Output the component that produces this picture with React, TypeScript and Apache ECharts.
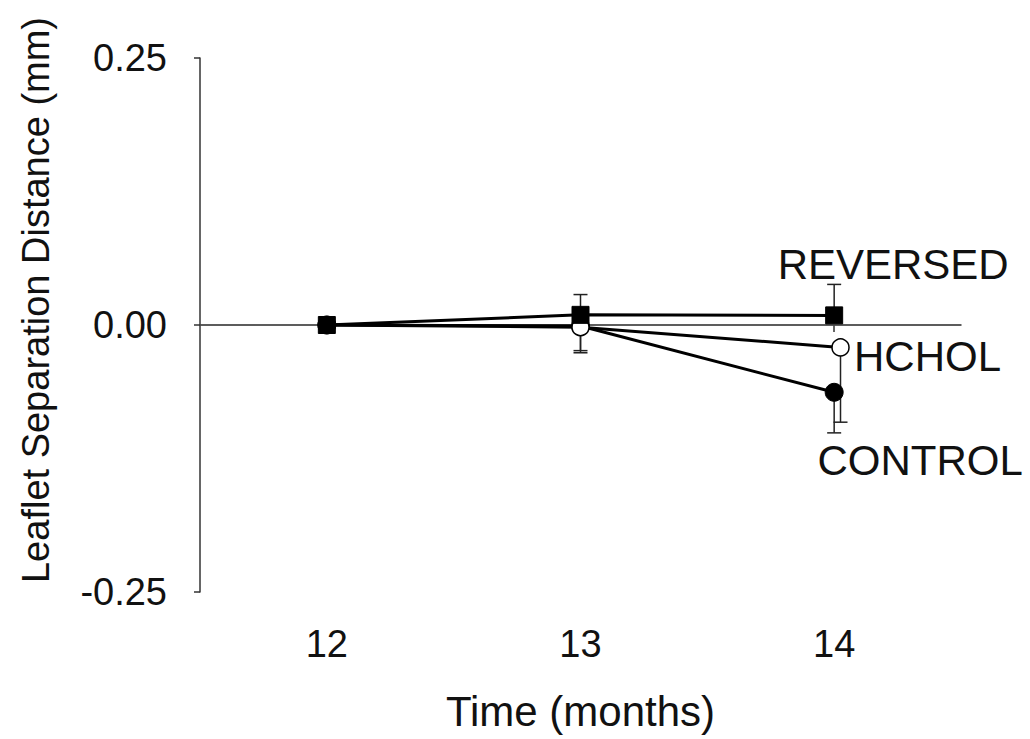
import React, { useEffect, useRef } from "react";
import * as echarts from "echarts";

const months = [12, 13, 14];
const hcholMonths = [12, 13, 14.025];
const reversedValues = [0, 0.0095, 0.009];
const reversedErrUp = [0, 0.019, 0.029];
const hcholValues = [0, -0.002, -0.021];
const hcholErrDown = [0, 0.022, 0.07];
const controlValues = [0, -0.001, -0.063];
const controlErrDown = [0, 0.025, 0.038];
const yTicks = [-0.25, 0, 0.25];
const seriesNames = ["REVERSED", "HCHOL", "CONTROL"];

const FONT = "Liberation Sans, Arial, sans-serif";

function lineData(xs: number[], ys: number[], labelOffset: number[], name: string) {
  return ys.map((y, i) => {
    const item: any = { value: [xs[i], y] };
    if (i === ys.length - 1) {
      item.label = {
        show: true,
        position: "inside",
        offset: labelOffset,
        formatter: name,
        fontSize: 42,
        fontFamily: FONT,
        color: "#111",
        align: "center",
        verticalAlign: "middle",
      };
    }
    return item;
  });
}

function errData(xs: number[], ys: number[], errs: number[], dir: number) {
  return ys
    .map((y, i) => [xs[i], y, y + dir * errs[i]])
    .filter((d) => d[1] !== d[2]);
}

function errSeries(data: number[][], z: number) {
  return {
    type: "custom",
    z,
    silent: true,
    data,
    encode: { x: 0, y: [1, 2] },
    renderItem: (params: any, api: any) => {
      const x = api.value(0);
      const p0 = api.coord([x, api.value(1)]);
      const p1 = api.coord([x, api.value(2)]);
      const half = 7;
      const style = { stroke: "#222", lineWidth: 1.5 };
      return {
        type: "group",
        children: [
          { type: "line", shape: { x1: p0[0], y1: p0[1], x2: p1[0], y2: p1[1] }, style },
          { type: "line", shape: { x1: p1[0] - half, y1: p1[1], x2: p1[0] + half, y2: p1[1] }, style },
        ],
      };
    },
  };
}

export default function App() {
  const ref = useRef<HTMLDivElement>(null);
  useEffect(() => {
    if (!ref.current) return;
    const chart = echarts.init(ref.current, undefined, { renderer: "svg" });
    chart.setOption({
      animation: false,
      backgroundColor: "#fff",
      grid: { left: 200, right: 69, top: 58, bottom: 147 },
      xAxis: {
        type: "value",
        min: 11.5,
        max: 14.5,
        name: "Time (months)",
        nameLocation: "middle",
        nameGap: 98,
        nameTextStyle: { fontSize: 42, fontFamily: FONT, color: "#111" },
        axisLine: { show: true, lineStyle: { color: "#333", width: 1.5 } },
        axisTick: { show: true, customValues: months, length: 7, lineStyle: { color: "#333", width: 1.5 } },
        axisLabel: { customValues: months, margin: 33, fontSize: 38, fontFamily: FONT, color: "#111" },
        splitLine: { show: false },
      },
      yAxis: {
        type: "value",
        min: -0.25,
        max: 0.25,
        interval: 0.25,
        name: "Leaflet Separation Distance (mm)",
        nameLocation: "middle",
        nameGap: 145,
        nameTextStyle: { fontSize: 38, fontFamily: FONT, color: "#111", padding: [0, 0, 0, 50] },
        axisLine: { show: true, lineStyle: { color: "#333", width: 1.5 } },
        axisTick: { show: true, customValues: yTicks, length: 6, lineStyle: { color: "#333", width: 1.5 } },
        axisLabel: {
          customValues: yTicks,
          margin: 33,
          fontSize: 38,
          fontFamily: FONT,
          color: "#111",
          formatter: (v: number) => v.toFixed(2),
        },
        splitLine: { show: false },
      },
      series: [
        {
          type: "line",
          name: "zero",
          data: [[11.5, 0], [14.5, 0]],
          symbol: "none",
          silent: true,
          z: 1,
          lineStyle: { color: "#555", width: 1 },
        },
        errSeries(errData(months, controlValues, controlErrDown, -1), 2),
        errSeries(errData(hcholMonths, hcholValues, hcholErrDown, -1), 2),
        errSeries(errData(months, reversedValues, reversedErrUp, 1), 2),
        {
          type: "line",
          name: seriesNames[2],
          data: lineData(months, controlValues, [86, 68], seriesNames[2]),
          symbol: "circle",
          symbolSize: 18,
          z: 3,
          lineStyle: { color: "#000", width: 3 },
          itemStyle: { color: "#000", borderColor: "#000", borderWidth: 1 },
        },
        {
          type: "line",
          name: seriesNames[1],
          data: lineData(hcholMonths, hcholValues, [87, 9], seriesNames[1]),
          symbol: "circle",
          symbolSize: 17,
          z: 4,
          lineStyle: { color: "#000", width: 3 },
          itemStyle: { color: "#fff", borderColor: "#000", borderWidth: 1.5 },
        },
        {
          type: "line",
          name: seriesNames[0],
          data: lineData(months, reversedValues, [59, -51], seriesNames[0]),
          symbol: "rect",
          symbolSize: 17,
          z: 5,
          lineStyle: { color: "#000", width: 3 },
          itemStyle: { color: "#000", borderColor: "#000", borderWidth: 1 },
        },
      ],
    });
    return () => chart.dispose();
  }, []);
  return (
    <div
      ref={ref}
      style={{ position: "fixed", left: 0, top: 0, width: 1030, height: 739 }}
    />
  );
}
